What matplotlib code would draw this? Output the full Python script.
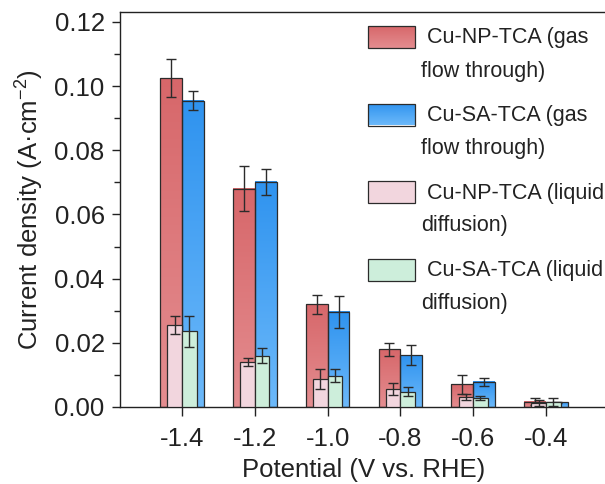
import numpy as np
import matplotlib
matplotlib.use("Agg")
import matplotlib.pyplot as plt
from matplotlib.colors import LinearSegmentedColormap
from matplotlib.patches import Rectangle
from matplotlib.ticker import MultipleLocator, FormatStrFormatter

plt.rcParams["font.family"] = ["Liberation Sans", "DejaVu Sans"]
plt.rcParams["mathtext.fontset"] = "custom"
plt.rcParams["mathtext.rm"] = "Liberation Sans"
plt.rcParams["mathtext.it"] = "Liberation Sans:italic"

# ---- data ---------------------------------------------------------------
potentials = ["-1.4", "-1.2", "-1.0", "-0.8", "-0.6", "-0.4"]

np_gas = [0.1025, 0.0680, 0.0320, 0.0180, 0.0071, 0.0017]
np_gas_err = [0.0060, 0.0070, 0.0030, 0.0020, 0.0030, 0.0012]
sa_gas = [0.0955, 0.0702, 0.0297, 0.0162, 0.0078, 0.0015]
sa_gas_err = [0.0030, 0.0040, 0.0050, 0.0030, 0.0011, 0.0002]

np_liq = [0.0256, 0.0140, 0.0087, 0.0056, 0.0032, 0.0013]
np_liq_err = [0.0029, 0.0013, 0.0030, 0.0019, 0.0010, 0.0010]
sa_liq = [0.0236, 0.0160, 0.0098, 0.0048, 0.0028, 0.0016]
sa_liq_err = [0.0048, 0.0024, 0.0020, 0.0014, 0.0007, 0.0013]

labels = [("Cu-NP-TCA (gas", "flow through)"),
          ("Cu-SA-TCA (gas", "flow through)"),
          ("Cu-NP-TCA (liquid", "diffusion)"),
          ("Cu-SA-TCA (liquid", "diffusion)")]

# ---- style --------------------------------------------------------------
RED_TOP, RED_BOT = "#d7676a", "#e48d90"
BLUE_TOP, BLUE_BOT = "#2f93ef", "#6cb9fa"
PINK = "#f2d6de"
GREEN = "#cdeedb"
EDGE = "#2b2b2b"
TXT = "#222222"

W_GAS = 0.30
W_LIQ = 0.20

FW, FH = 605, 484
fig = plt.figure(figsize=(FW / 100, FH / 100), dpi=100)
ax = fig.add_axes([120 / FW, 77 / FH, 488 / FW, 395 / FH])

x = np.arange(len(potentials))

GRAD = np.linspace(0, 1, 256).reshape(-1, 1)


def gradient_cmap(top, bottom):
    return LinearSegmentedColormap.from_list("g", [bottom, top])


def gradient_bars(xs, heights, width, top, bottom, z):
    cmap = gradient_cmap(top, bottom)
    outline = ax.bar(xs, heights, width, fill=False, edgecolor=EDGE,
                     linewidth=0.9, zorder=z + 0.2)
    for b in outline:
        x0, w, h = b.get_x(), b.get_width(), b.get_height()
        ax.imshow(GRAD, cmap=cmap, origin="lower", aspect="auto",
                  extent=[x0, x0 + w, 0, h], zorder=z,
                  interpolation="bilinear")
    return outline


err_kw = dict(fmt="none", ecolor=EDGE, elinewidth=1.0, capsize=3.5,
              capthick=1.0)

# gas flow-through bars (gradient fill)
gradient_bars(x - W_GAS / 2, np_gas, W_GAS, RED_TOP, RED_BOT, 2)
gradient_bars(x + W_GAS / 2, sa_gas, W_GAS, BLUE_TOP, BLUE_BOT, 2)
ax.errorbar(x - W_GAS / 2, np_gas, yerr=np_gas_err, zorder=2.5, **err_kw)
ax.errorbar(x + W_GAS / 2, sa_gas, yerr=sa_gas_err, zorder=2.5, **err_kw)

# liquid diffusion bars in front
ax.bar(x - W_LIQ / 2, np_liq, W_LIQ, color=PINK, edgecolor=EDGE,
       linewidth=0.9, zorder=3)
ax.bar(x + W_LIQ / 2, sa_liq, W_LIQ, color=GREEN, edgecolor=EDGE,
       linewidth=0.9, zorder=3)
ax.errorbar(x - W_LIQ / 2, np_liq, yerr=np_liq_err, zorder=4, **err_kw)
ax.errorbar(x + W_LIQ / 2, sa_liq, yerr=sa_liq_err, zorder=4, **err_kw)

# ---- axes ---------------------------------------------------------------
ax.set_xlim(-0.852, 5.852)
ax.set_ylim(0, 0.1231)
ax.set_xticks(x)
ax.set_xticklabels(potentials)
ax.yaxis.set_major_locator(MultipleLocator(0.02))
ax.yaxis.set_minor_locator(MultipleLocator(0.01))
ax.yaxis.set_major_formatter(FormatStrFormatter("%.2f"))

ax.tick_params(axis="both", which="major", labelsize=18.5, length=6,
               width=1.0, direction="out", colors=TXT)
ax.tick_params(axis="y", which="minor", length=4, width=1.0,
               direction="out", colors=TXT)
ax.tick_params(axis="y", which="major", pad=5)
ax.tick_params(axis="x", which="major", length=6.5, pad=8)
for s in ax.spines.values():
    s.set_linewidth(1.0)
    s.set_color(TXT)

ax.set_xlabel("Potential (V vs. RHE)", fontsize=18.5, color=TXT, labelpad=5)
ax.set_ylabel("Current density (A\u00b7cm$^{-2}$)", fontsize=18.5,
              color=TXT, labelpad=6)

# ---- legend (drawn by hand: swatch aligned with first text line) --------
swatches = [(RED_TOP, RED_BOT), (BLUE_TOP, BLUE_BOT), (PINK, PINK),
            (GREEN, GREEN)]
step = 77.5
for i, ((top, bot), (l1, l2)) in enumerate(zip(swatches, labels)):
    ytop = 26 + step * i
    rx, ry, rw, rh = 368 / FW, 1 - (ytop + 22) / FH, 47 / FW, 22 / FH
    if top != bot:
        lax = fig.add_axes([rx, ry, rw, rh])
        lax.imshow(GRAD, cmap=gradient_cmap(top, bot), origin="lower",
                   aspect="auto", extent=[0, 1, 0, 1])
        lax.set_axis_off()
        fig.add_artist(Rectangle((rx, ry), rw, rh, transform=fig.transFigure,
                                 fill=False, edgecolor=EDGE, linewidth=0.9))
    else:
        fig.add_artist(Rectangle((rx, ry), rw, rh, transform=fig.transFigure,
                                 facecolor=top, edgecolor=EDGE,
                                 linewidth=0.9))
    fig.text(427 / FW, 1 - (ytop + 12) / FH, l1, fontsize=15.5, color=TXT,
             ha="left", va="center")
    fig.text(421 / FW, 1 - (ytop + 45) / FH, l2, fontsize=15.5, color=TXT,
             ha="left", va="center")

fig.savefig("out.png", dpi=100)
